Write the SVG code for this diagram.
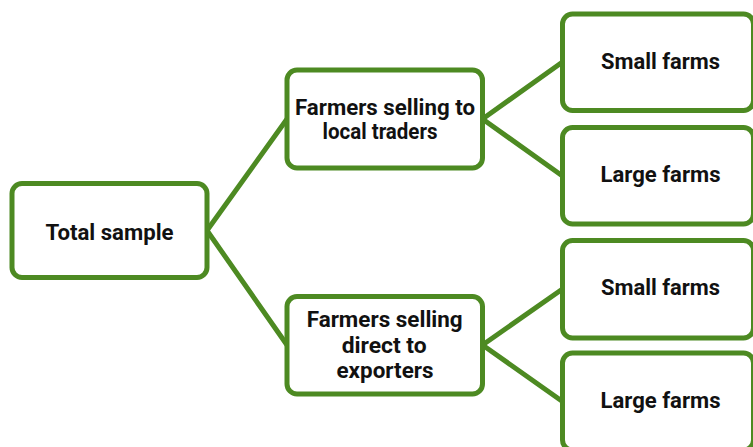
<svg xmlns="http://www.w3.org/2000/svg" width="753" height="447" viewBox="0 0 753 447">
<style>
.box{fill:#ffffff;stroke:#4d8a22;stroke-width:5}
.con{stroke:#4d8a22;stroke-width:5;fill:none;stroke-linecap:round}
.t{font-family:Roboto,"Liberation Sans",sans-serif;font-weight:700;font-size:21.5px;fill:#111111;text-anchor:middle}
</style>
<rect width="753" height="447" fill="#ffffff"/>
<g id="connectors">
<line class="con" x1="207" y1="230.5" x2="287" y2="119"/>
<line class="con" x1="207" y1="230.5" x2="287" y2="345"/>
<line class="con" x1="482.5" y1="119" x2="562.5" y2="62"/>
<line class="con" x1="482.5" y1="119" x2="562.5" y2="176"/>
<line class="con" x1="482.5" y1="345" x2="562.5" y2="289"/>
<line class="con" x1="482.5" y1="345" x2="562.5" y2="401.5"/>
</g>
<g id="total">
<rect class="box" x="12" y="183.5" width="195" height="94" rx="10"/>
<text class="t" x="109.5" y="240" textLength="128" lengthAdjust="spacingAndGlyphs">Total sample</text>
</g>
<g id="local">
<rect class="box" x="287" y="70" width="195.5" height="98" rx="10"/>
<text class="t" x="385" y="115" textLength="180" lengthAdjust="spacingAndGlyphs">Farmers selling to</text>
<text class="t" x="380" y="139" textLength="115" lengthAdjust="spacingAndGlyphs">local traders</text>
</g>
<g id="direct">
<rect class="box" x="287" y="296.5" width="195.5" height="97.5" rx="10"/>
<text class="t" x="384.7" y="327" textLength="156" lengthAdjust="spacingAndGlyphs">Farmers selling</text>
<text class="t" x="384.2" y="352.5" textLength="85" lengthAdjust="spacingAndGlyphs">direct to</text>
<text class="t" x="385" y="377.5" textLength="97" lengthAdjust="spacingAndGlyphs">exporters</text>
</g>
<g id="small1">
<rect class="box" x="562.5" y="14" width="191" height="96.5" rx="10"/>
<text class="t" x="660.5" y="68.5" textLength="119" lengthAdjust="spacingAndGlyphs">Small farms</text>
</g>
<g id="large1">
<rect class="box" x="562.5" y="127.5" width="191" height="96.5" rx="10"/>
<text class="t" x="660.5" y="182" textLength="120" lengthAdjust="spacingAndGlyphs">Large farms</text>
</g>
<g id="small2">
<rect class="box" x="562.5" y="240.5" width="191" height="97.5" rx="10"/>
<text class="t" x="660.5" y="295" textLength="119" lengthAdjust="spacingAndGlyphs">Small farms</text>
</g>
<g id="large2">
<rect class="box" x="562.5" y="353" width="191" height="97" rx="10"/>
<text class="t" x="660.5" y="408" textLength="120" lengthAdjust="spacingAndGlyphs">Large farms</text>
</g>
</svg>
